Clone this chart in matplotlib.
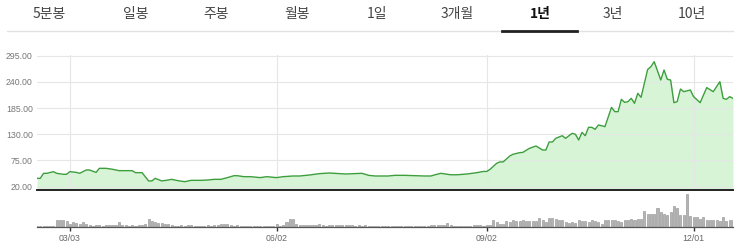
import matplotlib.pyplot as plt
from matplotlib.lines import Line2D

# tab bar
tabs = ["5분봉", "일봉", "주봉", "월봉", "1일", "3개월", "1년", "3년", "10년"]
active_tab = "1년"

# price line: trading-day index and close
price_day = [0, 1, 2, 3, 5, 6, 8, 9, 10, 12, 13, 15, 16, 18, 19, 21, 23, 25, 27, 29,
             30, 32, 34, 35, 36, 38, 40, 41, 43, 45, 47, 50, 52, 54, 56, 58, 60, 61, 63, 65,
             68, 70, 73, 75, 78, 80, 83, 86, 89, 92, 94, 97, 99, 101, 103, 107, 109, 112, 115, 118,
             120, 121, 123, 126, 128, 131, 134, 136, 137, 138, 140, 141, 142, 144, 145, 147, 148, 150, 152, 154,
             155, 156, 157, 158, 160, 161, 163, 164, 165, 166, 167, 168, 169, 170, 171, 172, 173, 175, 176, 177,
             178, 179, 180, 181, 182, 183, 184, 186, 187, 188, 190, 191, 192, 193, 194, 195, 196, 197, 199, 200,
             202, 204, 206, 208, 209, 210, 211, 212]
price = [37.5, 37.5, 48, 48, 51.5, 48, 46, 46, 51.5, 50, 48, 55, 55, 50, 58.5, 58.5, 56.5, 53.6, 53.6, 53.6,
         49.4, 49.4, 32, 32, 37.5, 32, 34, 35.4, 32.5, 30.5, 33.3, 33.3, 34, 35.4, 35.4, 39, 43, 43, 41, 41,
         39, 41, 39, 41, 42.4, 42.4, 44.5, 47.3, 48.7, 47.3, 46.6, 47.3, 48, 43.8, 42.4, 42.4, 43.8, 43.8, 43, 42.4,
         42.4, 44.5, 48, 45, 45, 46.6, 49.4, 52, 52, 56.4, 69, 72, 72, 84.4, 88, 91.4, 92, 100.5, 105.4, 97,
         97, 113.8, 113.8, 121.5, 127, 121.5, 132, 130, 118, 134, 127, 144.6, 144.6, 140.4, 149.5, 148, 146, 186.6, 177.5, 177.5,
         203.4, 197, 198.5, 205.5, 195, 216, 207.6, 266, 272, 282.5, 244, 265, 245.4, 244, 196.4, 198.5, 225, 219.5, 223, 209,
         196.4, 228, 219.5, 240.5, 205.5, 203.4, 209, 205.5]

# daily volume (relative units)
volume = [2, 2, 2, 2, 3, 3, 20, 22, 22, 18, 8, 14, 13, 10, 16, 10, 6, 4, 6, 6,
          4, 5, 5, 6, 5, 14, 5, 5, 3, 6, 4, 5, 6, 8, 24, 18, 14, 12, 12, 10,
          10, 5, 4, 4, 5, 4, 5, 5, 4, 3, 4, 4, 5, 4, 5, 6, 10, 8, 10, 5,
          4, 5, 4, 4, 4, 3, 4, 4, 3, 4, 3, 4, 3, 10, 4, 6, 14, 25, 25, 10,
          6, 5, 5, 5, 6, 5, 8, 5, 4, 5, 5, 6, 6, 5, 6, 5, 6, 4, 5, 4,
          5, 3, 3, 3, 3, 3, 3, 2, 3, 2, 2, 2, 3, 3, 3, 3, 3, 3, 4, 4,
          5, 6, 6, 7, 5, 12, 5, 4, 4, 3, 4, 4, 4, 5, 5, 7, 4, 6, 7, 20,
          15, 8, 10, 18, 14, 20, 17, 18, 20, 17, 17, 18, 17, 26, 20, 15, 28, 28, 24, 22,
          22, 15, 12, 14, 12, 20, 18, 18, 14, 20, 17, 14, 10, 20, 22, 22, 20, 18, 14, 22,
          22, 24, 20, 24, 24, 48, 38, 38, 40, 55, 45, 40, 35, 45, 62, 55, 35, 35, 98, 33,
          30, 30, 25, 30, 22, 22, 20, 22, 17, 30, 18, 20, 20]

date_ticks = [10, 73, 137, 200]
date_labels = ["03/03", "06/02", "09/02", "12/01"]
price_ticks = [20, 75, 130, 185, 240, 295]

W, H = 739, 249
KR = ["Noto Sans CJK KR", "DejaVu Sans"]
NUM = "Liberation Sans"


def box(x0, y0, x1, y1):
    return [x0 / W, 1 - y1 / H, (x1 - x0) / W, (y1 - y0) / H]


fig = plt.figure(figsize=(W / 100, H / 100), dpi=100)

# tabs
tab_x = [49, 136, 216, 297, 377, 457, 540, 613, 692]
for x, label in zip(tab_x, tabs):
    active = label == active_tab
    fig.text(x / W, 1 - 14 / H, label, ha="center", va="center", fontsize=10,
             family=KR, color="#111111" if active else "#444444",
             fontweight="bold" if active else "normal")
fig.add_artist(Line2D([7 / W, 733 / W], [1 - 31.5 / H] * 2, color="#e2e2e2", lw=1))
fig.add_artist(Line2D([502 / W, 577 / W], [1 - 30.8 / H] * 2, color="#222222", lw=2))

# price panel
ax = fig.add_axes(box(37, 55, 733, 190))
ax.fill_between(price_day, price, 13, color="#4cd04c", alpha=0.22, lw=0)
ax.plot(price_day, price, color="#3c9e3c", lw=1)
ax.set_xlim(0, 212)
ax.set_ylim(13, 296.5)
ax.set_yticks(price_ticks)
ax.set_yticklabels([f"{v:.2f}" for v in price_ticks], family=NUM)
ax.tick_params(axis="y", length=0, labelsize=6.3, labelcolor="#777777", pad=3)
ax.set_xticks(date_ticks)
ax.tick_params(axis="x", length=0, labelbottom=False)
ax.grid(color="#e6e6e6", lw=0.8)
for s in ["top", "left", "right"]:
    ax.spines[s].set_visible(False)
ax.spines["bottom"].set_color("#222222")
ax.spines["bottom"].set_linewidth(1.4)

# volume panel
vax = fig.add_axes(box(37, 192, 733, 227))
vax.bar(range(len(volume)), volume, width=0.62, color="#b4b4b4",
        edgecolor="#8c8c8c", lw=0.4)
vax.set_xlim(0, 212)
vax.set_ylim(0, 104)
vax.set_yticks([])
vax.set_xticks(date_ticks)
vax.set_xticklabels(date_labels, family=NUM)
vax.tick_params(axis="x", length=3, width=1, color="#333333", labelsize=6.3,
                labelcolor="#666666", pad=2)
for s in ["top", "left", "right"]:
    vax.spines[s].set_visible(False)
vax.spines["bottom"].set_color("#555555")
vax.spines["bottom"].set_linewidth(0.9)

fig.savefig("out.png", dpi=100)
